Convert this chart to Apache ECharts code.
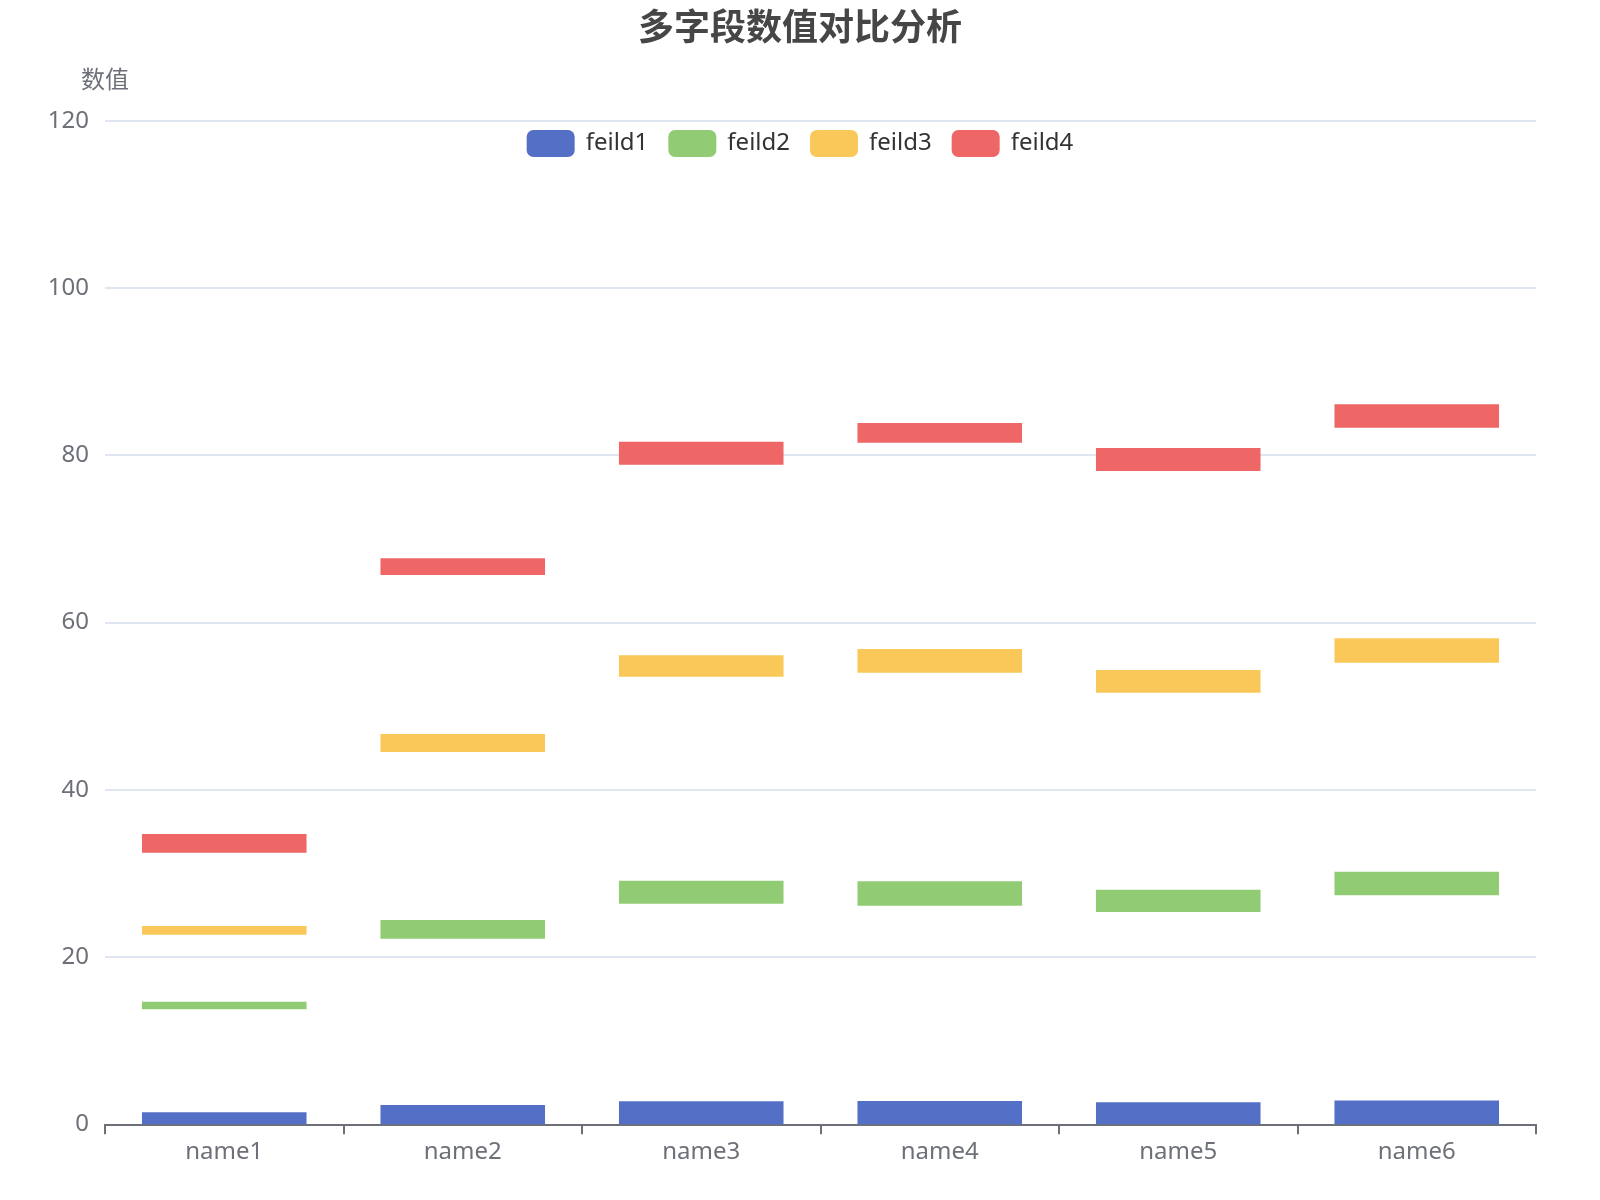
<!DOCTYPE html>
<html>
<head>
<meta charset="utf-8">
<script src="https://cdn.jsdelivr.net/npm/echarts@6/dist/echarts.min.js"></script>
<style>
  html, body { margin: 0; padding: 0; background: #ffffff; }
  #chart { width: 1600px; height: 1200px; }
</style>
</head>
<body>
<div id="chart"></div>
<script>
const categories = ['name1', 'name2', 'name3', 'name4', 'name5', 'name6'];
const seriesNames = ['feild1', 'feild2', 'feild3', 'feild4'];
const yTicks = [0, 20, 40, 60, 80, 100, 120];

// lower and upper edge of each floating segment
const feild1Low  = [0, 0, 0, 0, 0, 0];
const feild1High = [1.43, 2.31, 2.75, 2.79, 2.63, 2.85];
const feild2Low  = [13.75, 22.19, 26.38, 26.14, 25.39, 27.38];
const feild2High = [14.66, 24.43, 29.13, 29.06, 28.05, 30.2];
const feild3Low  = [22.67, 44.52, 53.52, 54.0, 51.61, 55.2];
const feild3High = [23.71, 46.67, 56.08, 56.83, 54.32, 58.11];
const feild4Low  = [32.48, 65.68, 78.87, 81.5, 78.12, 83.3];
const feild4High = [34.71, 67.68, 81.62, 83.86, 80.87, 86.09];

const colors = ['#5470c6', '#91cc75', '#fac858', '#ee6666'];
const lows = [feild1Low, feild2Low, feild3Low, feild4Low];
const highs = [feild1High, feild2High, feild3High, feild4High];

const FONT = '"Noto Sans", "Noto Sans CJK SC", sans-serif';
const CJK = '"Noto Sans CJK SC", "Noto Sans", sans-serif';
const round = v => Math.round(v * 1000) / 1000;

const series = [];
let prevTop = categories.map(() => 0);
seriesNames.forEach((name, s) => {
  const gap = lows[s].map((v, i) => round(v - prevTop[i]));
  if (gap.some(v => v > 0)) {
    series.push({
      name: '_gap' + s,
      type: 'bar',
      stack: 'total',
      barWidth: '69%',
      silent: true,
      itemStyle: { color: 'rgba(0,0,0,0)' },
      emphasis: { disabled: true },
      tooltip: { show: false },
      data: gap
    });
  }
  series.push({
    name: name,
    type: 'bar',
    stack: 'total',
    barWidth: '69%',
    itemStyle: { color: colors[s] },
    data: highs[s].map((v, i) => round(v - lows[s][i]))
  });
  prevTop = highs[s].slice();
});

const chart = echarts.init(document.getElementById('chart'));
chart.setOption({
  animation: false,
  color: colors,
  textStyle: { fontFamily: FONT },
  title: {
    text: '多字段数值对比分析',
    left: 'center',
    top: 8,
    padding: 0,
    textStyle: { fontSize: 36, fontWeight: 'bold', color: '#464646', fontFamily: CJK }
  },
  legend: {
    data: seriesNames,
    top: 130,
    left: 'center',
    padding: 0,
    itemWidth: 48,
    itemHeight: 27,
    itemGap: 20,
    textStyle: { fontSize: 24, color: '#333', fontFamily: FONT, padding: [0, 0, 0, 6] }
  },
  grid: { left: 105, right: 64, top: 120.7, bottom: 75.7 },
  xAxis: {
    type: 'category',
    data: categories,
    axisLine: { show: true, lineStyle: { color: '#6E7079', width: 2 } },
    axisTick: { show: true, length: 10, lineStyle: { color: '#6E7079', width: 2 } },
    axisLabel: { fontSize: 24, margin: 16, color: '#6E7079', fontFamily: FONT }
  },
  yAxis: {
    type: 'value',
    name: '数值',
    nameGap: 30,
    nameTextStyle: { fontSize: 24, color: '#6E7079', fontFamily: CJK },
    min: yTicks[0],
    max: yTicks[yTicks.length - 1],
    interval: yTicks[1] - yTicks[0],
    axisLabel: { fontSize: 24, margin: 16, color: '#6E7079', fontFamily: FONT },
    splitLine: { lineStyle: { color: '#E0E6F1', width: 2 } }
  },
  series: series
});
</script>
</body>
</html>
